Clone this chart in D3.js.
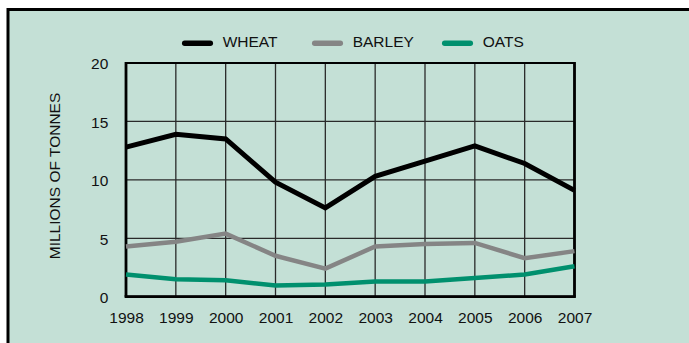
<!DOCTYPE html>
<html>
<head>
<meta charset="utf-8">
<script src="https://cdn.jsdelivr.net/npm/d3@7/dist/d3.min.js"></script>
<style>
  html, body { margin: 0; padding: 0; background: #ffffff; }
  svg { display: block; font-family: "Liberation Sans", Arial, sans-serif; }
</style>
</head>
<body>
<svg id="chart" width="689" height="343"></svg>
<script>
// Cereal production, millions of tonnes
const years = [1998, 1999, 2000, 2001, 2002, 2003, 2004, 2005, 2006, 2007];
const wheat  = [12.8, 13.9, 13.5, 9.8, 7.6, 10.3, 11.6, 12.9, 11.4, 9.1];
const barley = [4.3, 4.7, 5.4, 3.5, 2.4, 4.3, 4.5, 4.6, 3.3, 3.9];
const oats   = [1.9, 1.5, 1.4, 0.95, 1.05, 1.3, 1.3, 1.6, 1.9, 2.6];
const yTicks = [0, 5, 10, 15, 20];
const seriesNames = ["WHEAT", "BARLEY", "OATS"];
const seriesColors = ["#000000", "#858585", "#00906e"];
const seriesWidths = [5, 4.5, 4.5];
const FONT = "Liberation Sans, Arial, sans-serif";
const FS = 15.5;

const svg = d3.select("#chart");

// panel background with a heavy frame running off the right and bottom
svg.append("rect")
  .attr("x", 8).attr("y", 9.5)
  .attr("width", 700).attr("height", 360)
  .attr("fill", "#c4e0d6")
  .attr("stroke", "#000").attr("stroke-width", 3);

const x = d3.scalePoint().domain(years).range([126, 574.5]);
const y = d3.scaleLinear().domain([0, 20]).range([296.7, 63]);

const g = svg.append("g");

// vertical grid lines
g.selectAll("line.vgrid").data(years).join("line")
  .attr("class", "vgrid")
  .attr("x1", d => x(d)).attr("x2", d => x(d))
  .attr("y1", y(20)).attr("y2", y(0))
  .attr("stroke", "#2a2a2a").attr("stroke-width", 1.3);

// horizontal grid lines
g.selectAll("line.hgrid").data(yTicks).join("line")
  .attr("class", "hgrid")
  .attr("x1", x(1998)).attr("x2", x(2007))
  .attr("y1", d => y(d)).attr("y2", d => y(d))
  .attr("stroke", "#2a2a2a").attr("stroke-width", 1.3);

// plot frame
g.append("rect")
  .attr("x", x(1998)).attr("y", y(20))
  .attr("width", x(2007) - x(1998)).attr("height", y(0) - y(20))
  .attr("fill", "none").attr("stroke", "#000").attr("stroke-width", 2);
g.append("line")
  .attr("x1", x(1998)).attr("x2", x(1998)).attr("y1", y(20) - 1).attr("y2", y(0))
  .attr("stroke", "#000").attr("stroke-width", 2.8);
g.append("line")
  .attr("x1", x(2007)).attr("x2", x(2007)).attr("y1", y(20) - 1).attr("y2", y(0))
  .attr("stroke", "#000").attr("stroke-width", 2.6);
g.append("line")
  .attr("x1", x(1998) - 1.4).attr("x2", x(2007) + 1.3).attr("y1", y(0)).attr("y2", y(0))
  .attr("stroke", "#000").attr("stroke-width", 2.8);

// axes (labels only)
const yAxis = d3.axisLeft(y).tickValues(yTicks).tickSize(0).tickPadding(17.7);
const ya = svg.append("g").attr("transform", `translate(${x(1998)},1)`).call(yAxis);
ya.select(".domain").remove();
ya.selectAll("text").attr("font-size", FS).attr("fill", "#111").attr("font-family", FONT);

const xAxis = d3.axisBottom(x).tickSize(0).tickFormat(d3.format("d"));
const xa = svg.append("g").attr("transform", `translate(0,${y(0)})`).call(xAxis);
xa.select(".domain").remove();
xa.selectAll("text").attr("y", 26.8).attr("dy", 0)
  .attr("font-size", FS).attr("fill", "#111").attr("font-family", FONT);

// y-axis title
svg.append("text")
  .attr("transform", `translate(59.5,176) rotate(-90)`)
  .attr("text-anchor", "middle")
  .attr("font-size", FS).attr("fill", "#111")
  .text("MILLIONS OF TONNES");

// series lines
const allSeries = [wheat, barley, oats];
allSeries.forEach((vals, i) => {
  const line = d3.line()
    .x((d, j) => x(years[j]))
    .y(d => y(d));
  svg.append("path")
    .datum(vals)
    .attr("d", line)
    .attr("fill", "none")
    .attr("stroke", seriesColors[i])
    .attr("stroke-width", seriesWidths[i])
    .attr("stroke-linejoin", "miter");
});

// legend
const legendX = [181.7, 311.7, 441.7];
seriesNames.forEach((name, i) => {
  svg.append("line")
    .attr("x1", legendX[i] + 3).attr("x2", legendX[i] + 28.6)
    .attr("y1", 43.3).attr("y2", 43.3)
    .attr("stroke", seriesColors[i]).attr("stroke-width", 5.5)
    .attr("stroke-linecap", "round");
  svg.append("text")
    .attr("x", legendX[i] + 41).attr("y", 46.7)
    .attr("font-size", FS).attr("fill", "#111")
    .text(name);
});
</script>
</body>
</html>
